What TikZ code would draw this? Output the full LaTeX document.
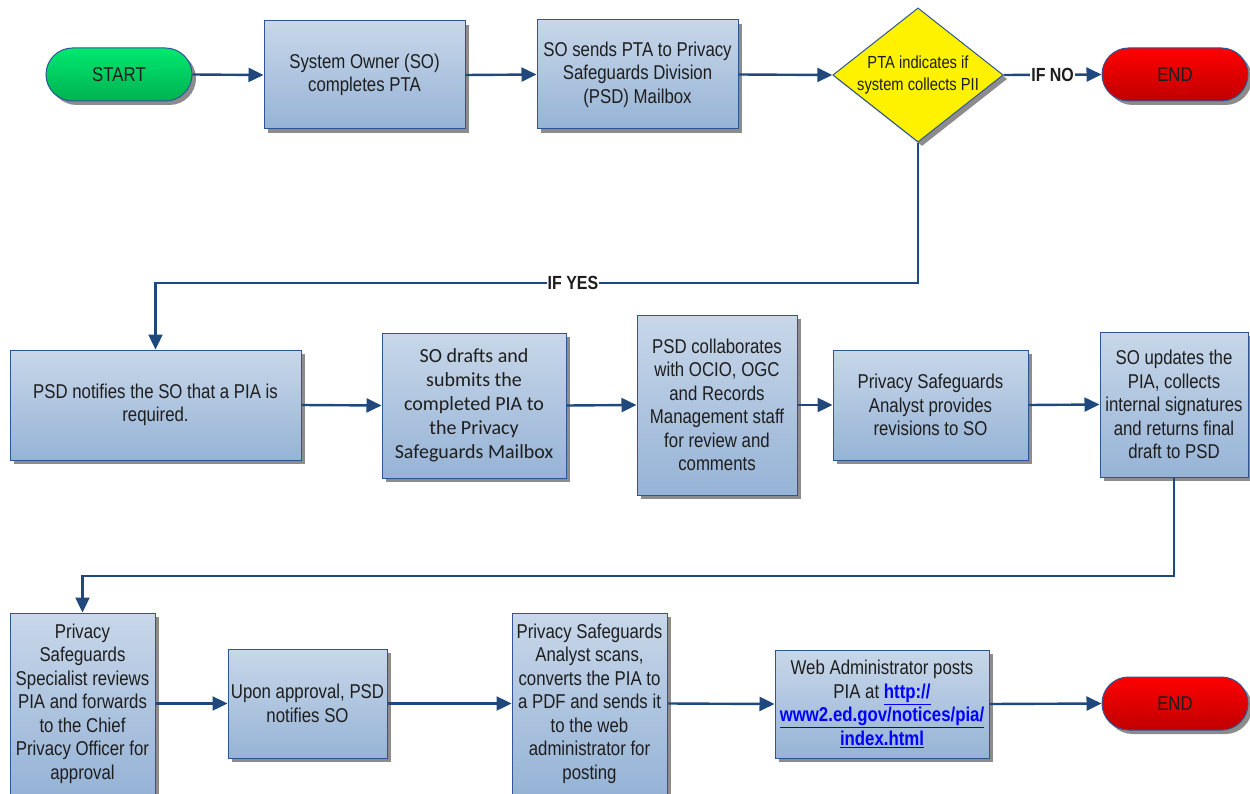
\documentclass[tikz,border=0pt]{standalone}
\usepackage{fontspec}
\setmainfont{Liberation Sans}
\newfontfamily\nar[FakeStretch=0.84]{Liberation Sans}
\newfontfamily\calfont{Carlito}
\usetikzlibrary{shapes.geometric,shadows,arrows.meta}
\definecolor{boxtop}{RGB}{200,215,233}
\definecolor{boxbot}{RGB}{150,179,214}
\definecolor{boxline}{RGB}{47,85,151}
\definecolor{conncol}{RGB}{31,73,125}
\definecolor{gtop}{RGB}{0,232,112}
\definecolor{gbot}{RGB}{0,178,80}
\definecolor{rtop}{RGB}{255,0,0}
\definecolor{rbot}{RGB}{192,0,0}
\definecolor{txt}{RGB}{30,30,30}
\newcommand\lnk[1]{\textcolor{blue}{\bfseries\underline{#1}}}
\tikzset{
  shad/.style={drop shadow={shadow xshift=4pt,shadow yshift=-4pt,fill=black!45,opacity=1}},
  procbox/.style={rectangle,draw=boxline,line width=1pt,top color=boxtop,bottom color=boxbot,shad,
    align=center,text=txt,font=\nar\fontsize{20}{23.5}\selectfont,inner sep=2pt},
  stadium/.style={rectangle,rounded corners=26.5pt,draw=boxline,line width=1pt,shad,
    minimum width=146pt,minimum height=53pt,text=txt,font=\nar\fontsize{20}{23}\selectfont},
  startst/.style={stadium,top color=gtop,bottom color=gbot},
  endst/.style={stadium,top color=rtop,bottom color=rbot},
  decst/.style={diamond,draw=boxline,line width=1pt,fill=yellow,shad,aspect=1.27,inner sep=0pt,
    minimum width=170pt,minimum height=134pt,align=center,text=txt,font=\nar\fontsize{17.5}{22}\selectfont},
  flow/.style={draw=conncol,line width=2.4pt,-{Triangle[length=15pt,width=14pt]}},
  lbl/.style={fill=white,inner sep=1pt,text=txt,font=\nar\bfseries\fontsize{19}{22}\selectfont}
}
\begin{document}
\begin{tikzpicture}[x=1pt,y=-1pt]
\useasboundingbox (0,0) rectangle (1250,794);
\node[startst] (start) at (119,74.5) {START};
\node[procbox,minimum width=201pt,minimum height=108pt] (b1) at (364.5,75) {System Owner (SO)\\completes PTA};
\node[procbox,minimum width=201pt,minimum height=109pt] (b2) at (637.5,74.5) {SO sends PTA to Privacy\\Safeguards Division\\(PSD) Mailbox};
\node[decst] (d) at (918,75) {PTA indicates if\\system collects PII};
\node[endst] (end1) at (1175,74.5) {END};

\node[procbox,minimum width=291pt,minimum height=110pt] (b3) at (155.5,405) {PSD notifies the SO that a PIA is\\required.};
\node[procbox,font=\calfont\fontsize{20}{24}\selectfont,minimum width=184pt,minimum height=145pt] (b4) at (474,405.5) {SO drafts and\\submits the\\completed PIA to\\the Privacy\\Safeguards Mailbox};
\node[procbox,minimum width=160pt,minimum height=180pt] (b5) at (717,405) {PSD collaborates\\with OCIO, OGC\\and Records\\Management staff\\for review and\\comments};
\node[procbox,minimum width=195pt,minimum height=110pt] (b6) at (930.5,405) {Privacy Safeguards\\Analyst provides\\revisions to SO};
\node[procbox,minimum width=148pt,minimum height=145pt] (b7) at (1174,404.5) {SO updates the\\PIA, collects\\internal signatures\\and returns final\\draft to PSD};

\node[procbox,minimum width=145pt,minimum height=181pt] (b8) at (82.5,703.5) {Privacy\\Safeguards\\Specialist reviews\\PIA and forwards\\to the Chief\\Privacy Officer for\\approval};
\node[procbox,minimum width=159pt,minimum height=109pt] (b9) at (307.5,703.5) {Upon approval, PSD\\notifies SO};
\node[procbox,minimum width=155pt,minimum height=181pt] (b10) at (589.5,703.5) {Privacy Safeguards\\Analyst scans,\\converts the PIA to\\a PDF and sends it\\to the web\\administrator for\\posting};
\node[procbox,minimum width=214pt,minimum height=108pt] (b11) at (882,704) {Web Administrator posts\\PIA at \lnk{http://}\\\lnk{www2.ed.gov/notices/pia/}\\\lnk{index.html}};
\node[endst] (end2) at (1175,703.5) {END};

\coordinate (yes) at (573,283);
\coordinate (turn2) at (600,576);

\draw[flow] (start.east) -- (b1.west);
\draw[flow] (b1.east) -- (b2.west);
\draw[flow] (b2.east) -- (d.west);
\draw[flow] (d.east) -- node[lbl] (nolbl) {IF NO} (end1.west);
\draw[flow] (d.south) |- (yes) -| (b3.north);
\node[lbl] (yeslbl) at (yes) {IF YES};
\draw[flow] (b3.east) -- (b4.west);
\draw[flow] (b4.east) -- (b5.west);
\draw[flow] (b5.east) -- (b6.west);
\draw[flow] (b6.east) -- (b7.west);
\draw[flow] (b7.south) |- (turn2) -| (b8.north);
\draw[flow] (b8.east) -- (b9.west);
\draw[flow] (b9.east) -- (b10.west);
\draw[flow] (b10.east) -- (b11.west);
\draw[flow] (b11.east) -- (end2.west);
\end{tikzpicture}
\end{document}
